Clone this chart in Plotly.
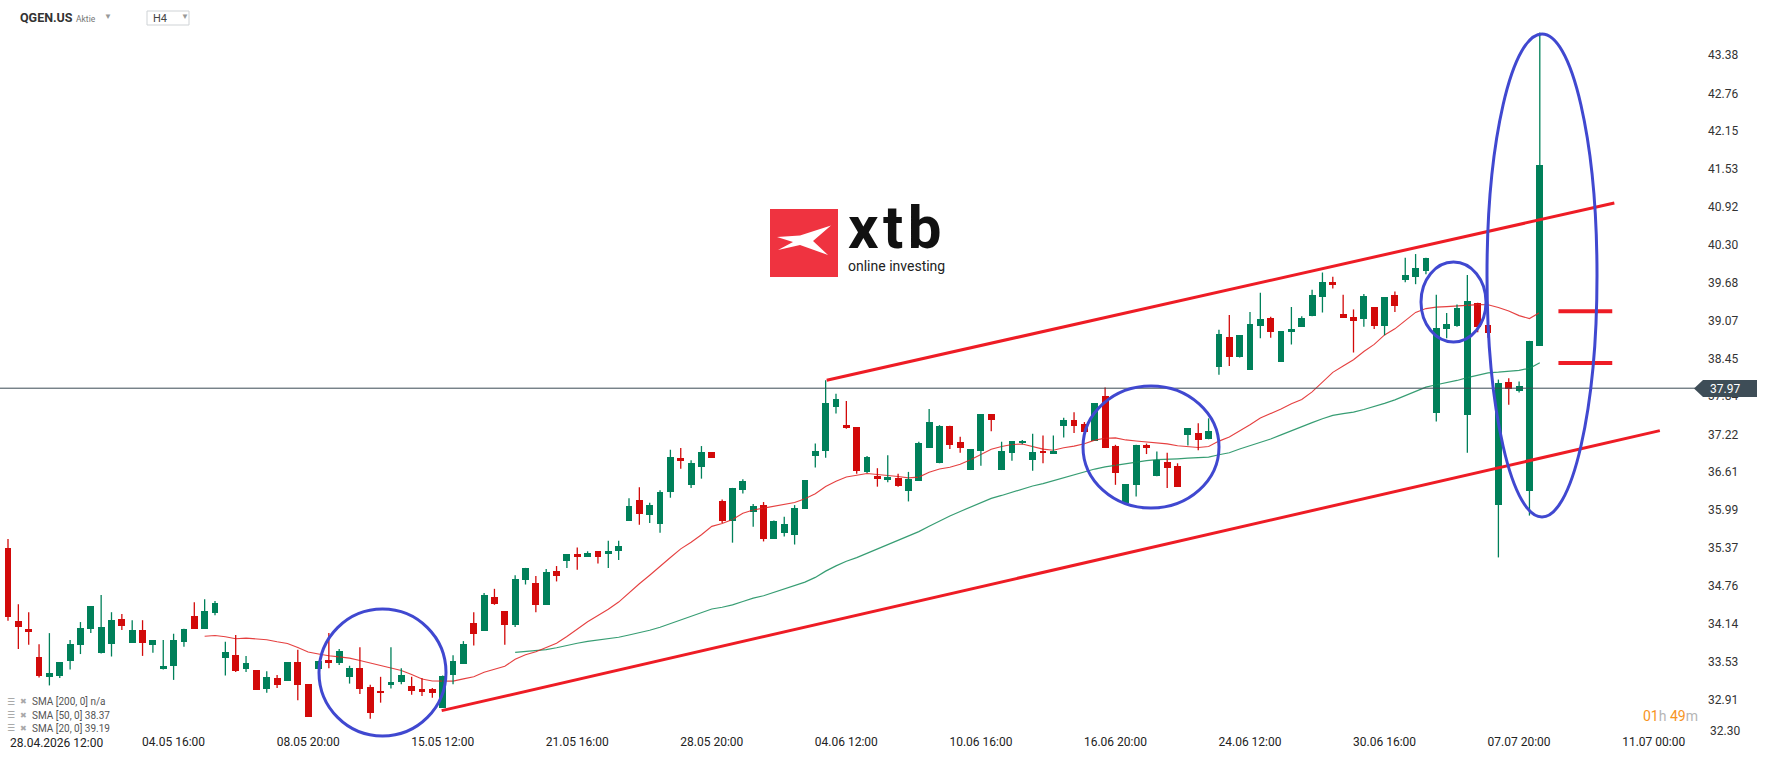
import plotly.graph_objects as go
import pandas as pd

# ---------------- data ----------------
opens = [35.37, 34.19, 34.06, 33.60, 33.27, 33.30, 33.53, 33.79, 34.06, 33.66,
         33.82, 34.22, 33.83, 34.04, 33.80, 33.40, 33.46, 33.85, 34.27, 34.06,
         34.32, 33.59, 33.63, 33.40, 33.39, 33.09, 33.26, 33.22, 33.52, 33.16,
         33.41, 33.55, 33.51, 33.27, 33.42, 33.11, 33.05, 33.14, 33.19, 33.13,
         33.09, 33.08, 32.78, 33.31, 33.49, 34.15, 34.03, 34.58, 34.35, 34.13,
         34.86, 34.80, 34.45, 35.00, 35.17, 35.27, 35.23, 35.32, 35.28, 35.33,
         35.82, 36.15, 35.91, 35.77, 36.29, 36.84, 36.39, 36.69, 36.93, 36.14,
         35.82, 36.32, 35.96, 36.07, 35.52, 35.62, 35.59, 36.01, 36.87, 36.95,
         37.67, 37.38, 37.34, 36.61, 36.54, 36.48, 36.51, 36.30, 36.47, 37.00,
         36.76, 37.36, 37.09, 36.64, 36.95, 37.55, 36.64, 36.92, 37.08, 36.80,
         36.95, 36.90, 37.35, 37.45, 37.39, 37.12, 37.85, 37.03, 36.10, 36.39,
         37.04, 36.54, 36.77, 36.71, 37.21, 37.25, 37.14, 38.32, 38.81, 38.47,
         38.27, 38.98, 39.11, 38.40, 38.89, 38.97, 39.14, 39.46, 39.69, 39.17,
         39.13, 39.09, 39.29, 38.98, 39.49, 39.73, 39.78, 39.88, 37.57, 38.94,
         38.98, 37.54, 39.36, 38.99, 36.08, 38.07, 37.92, 36.30, 38.66]
highs = [35.52, 34.46, 34.33, 33.81, 33.99, 33.52, 33.88, 34.17, 34.43, 34.61,
         34.33, 34.30, 34.20, 34.20, 33.88, 33.88, 33.98, 34.06, 34.49, 34.54,
         34.51, 33.85, 33.96, 33.62, 33.39, 33.37, 33.31, 33.52, 33.72, 33.16,
         33.54, 33.99, 33.73, 33.46, 33.76, 33.15, 33.28, 33.76, 33.42, 33.28,
         33.26, 33.10, 33.30, 33.63, 33.86, 34.33, 34.64, 34.71, 34.35, 34.93,
         35.05, 34.92, 35.03, 35.08, 35.27, 35.38, 35.32, 35.32, 35.49, 35.49,
         36.18, 36.36, 36.11, 36.31, 36.97, 37.00, 36.80, 37.03, 36.93, 36.16,
         36.35, 36.49, 36.09, 36.12, 35.82, 35.88, 36.07, 36.48, 37.07, 38.10,
         37.88, 37.76, 37.34, 36.87, 36.67, 36.88, 36.58, 36.61, 37.10, 37.63,
         37.37, 37.36, 37.18, 36.98, 37.55, 37.55, 37.10, 37.11, 37.13, 37.23,
         37.20, 37.20, 37.49, 37.58, 37.42, 37.73, 37.98, 37.05, 36.41, 37.05,
         37.07, 36.94, 36.92, 36.75, 37.32, 37.40, 37.48, 38.92, 39.16, 38.83,
         39.21, 39.52, 39.13, 38.90, 39.29, 39.14, 39.57, 39.85, 39.78, 39.49,
         39.25, 39.50, 39.29, 39.45, 39.54, 40.09, 40.15, 40.09, 39.49, 39.19,
         39.33, 39.81, 39.36, 38.99, 38.11, 38.13, 38.08, 38.74, 43.75]
lows = [34.19, 33.73, 33.80, 33.27, 33.14, 33.26, 33.40, 33.65, 33.99, 33.66,
        33.61, 34.04, 33.83, 33.62, 33.67, 33.40, 33.23, 33.77, 34.06, 34.06,
        34.28, 33.30, 33.36, 33.36, 33.07, 33.02, 33.10, 33.22, 32.90, 32.63,
        33.41, 33.42, 33.47, 33.17, 33.00, 32.60, 32.86, 33.09, 33.16, 32.99,
        32.97, 32.94, 32.78, 33.16, 33.49, 33.79, 34.03, 34.45, 33.80, 34.09,
        34.78, 34.33, 34.45, 34.83, 35.05, 35.02, 35.23, 35.12, 35.05, 35.18,
        35.82, 35.75, 35.78, 35.62, 36.19, 36.66, 36.35, 36.50, 36.84, 35.78,
        35.46, 36.26, 35.72, 35.48, 35.52, 35.56, 35.43, 36.01, 36.68, 36.84,
        37.56, 37.31, 36.58, 36.59, 36.37, 36.44, 36.37, 36.13, 36.47, 37.00,
        36.75, 36.98, 36.92, 36.64, 36.71, 37.27, 36.64, 36.79, 37.06, 36.63,
        36.75, 36.90, 37.17, 37.24, 37.26, 37.12, 37.00, 36.40, 36.10, 36.21,
        36.90, 36.54, 36.35, 36.37, 37.04, 36.96, 37.14, 38.19, 38.33, 38.47,
        38.27, 38.78, 38.79, 38.40, 38.68, 38.97, 39.14, 39.20, 39.59, 39.11,
        38.55, 38.97, 38.93, 38.83, 39.21, 39.69, 39.66, 39.82, 37.43, 38.78,
        38.97, 36.92, 38.88, 38.79, 35.22, 37.70, 37.90, 35.90, 38.66]
closes = [34.26, 34.09, 34.01, 33.30, 33.34, 33.52, 33.81, 34.07, 34.43, 34.09,
          34.20, 34.11, 34.04, 33.83, 33.88, 33.46, 33.88, 34.06, 34.06, 34.35,
          34.48, 33.68, 33.38, 33.50, 33.07, 33.28, 33.14, 33.52, 33.14, 32.63,
          33.54, 33.51, 33.70, 33.42, 33.09, 32.70, 33.01, 33.20, 33.31, 33.05,
          33.04, 33.01, 33.30, 33.54, 33.81, 33.98, 34.61, 34.47, 34.13, 34.87,
          35.05, 34.45, 34.98, 34.92, 35.27, 35.23, 35.29, 35.22, 35.32, 35.41,
          36.06, 35.93, 36.07, 36.28, 36.85, 36.78, 36.75, 36.93, 36.84, 35.81,
          36.35, 36.46, 36.06, 35.52, 35.81, 35.76, 36.02, 36.48, 36.95, 37.73,
          37.79, 37.32, 36.62, 36.85, 36.50, 36.53, 36.38, 36.49, 37.08, 37.42,
          37.36, 37.04, 37.00, 36.98, 37.55, 37.45, 36.95, 37.11, 37.12, 36.94,
          36.91, 36.95, 37.45, 37.36, 37.26, 37.73, 37.00, 36.60, 36.41, 37.05,
          37.00, 36.80, 36.68, 36.37, 37.32, 37.13, 37.27, 38.85, 38.48, 38.83,
          39.01, 39.10, 38.89, 38.90, 38.93, 39.11, 39.48, 39.69, 39.65, 39.11,
          39.07, 39.47, 38.98, 39.45, 39.30, 39.81, 39.92, 40.09, 38.95, 39.01,
          39.28, 39.38, 38.97, 38.86, 38.05, 37.95, 38.00, 38.74, 41.60]

x_tick_pos = [16, 29, 42, 55, 68, 81, 94, 107, 120, 133, 146, 159]
x_tick_text = ["04.05 16:00", "08.05 20:00", "15.05 12:00", "21.05 16:00",
               "28.05 20:00", "04.06 12:00", "10.06 16:00", "16.06 20:00",
               "24.06 12:00", "30.06 16:00", "07.07 20:00", "11.07 00:00"]
first_label = "28.04.2026 12:00"

y_tick_vals = [32.91, 33.53, 34.14, 34.76, 35.37, 35.99, 36.61, 37.22, 37.84,
               38.45, 39.07, 39.68, 40.30, 40.92, 41.53, 42.15, 42.76, 43.38]
y_bottom_label = "32.30"

last_price = 37.97
sma_periods = [20, 50]
legend_rows = ["SMA [200, 0] n/a", "SMA [50, 0] 38.37", "SMA [20, 0] 39.19"]

# channel lines drawn on the chart (index, price)
upper_channel = [(79.1, 38.10), (155.2, 40.98)]
lower_channel = [(41.9, 32.73), (159.6, 37.28)]
marker_levels = [39.22, 38.38]
marker_span = (149.8, 155.0)

# ---------------- geometry helpers ----------------
W, H = 1768, 761
ML, MR, MT, MB = 0, 73, 25, 28
PW, PH = W - ML - MR, H - MT - MB


def px(xp):
    return (xp - ML) / PW


def py(yp):
    return (H - MB - yp) / PH


GREEN = "#00805a"
RED = "#d20a0a"
LINE_RED = "#ee1c25"
BLUE = "#4048d0"

n = len(closes)
idx = list(range(n))
up = [c >= o for o, c in zip(opens, closes)]
colors = [GREEN if u else RED for u in up]
body_base = [min(o, c) for o, c in zip(opens, closes)]
body_h = [max(abs(c - o), 0.012) for o, c in zip(opens, closes)]

fig = go.Figure()

# SMA lines
s = pd.Series(closes)
sma20 = s.rolling(sma_periods[0]).mean()
sma50 = s.rolling(sma_periods[1]).mean()
fig.add_trace(go.Scatter(x=idx, y=sma50, mode="lines",
                         line=dict(color="rgba(20,140,90,0.85)", width=1.2),
                         hoverinfo="skip"))
fig.add_trace(go.Scatter(x=idx, y=sma20, mode="lines",
                         line=dict(color="rgba(225,30,30,0.85)", width=1.1),
                         hoverinfo="skip"))

# wicks
for flag, col in ((True, GREEN), (False, RED)):
    wx, wy = [], []
    for i in idx:
        if up[i] == flag:
            wx += [i, i, None]
            wy += [lows[i], highs[i], None]
    fig.add_trace(go.Scatter(x=wx, y=wy, mode="lines",
                             line=dict(color=col, width=1.3), hoverinfo="skip"))

# bodies
fig.add_trace(go.Bar(x=idx, y=body_h, base=body_base, width=0.66,
                     marker=dict(color=colors, line=dict(width=0))))

shapes = []
# last price line
shapes.append(dict(type="line", xref="paper", yref="y", x0=0, x1=1,
                   y0=last_price, y1=last_price,
                   line=dict(color="#3b4a55", width=1)))
# channel
for seg in (upper_channel, lower_channel):
    shapes.append(dict(type="line", xref="x", yref="y",
                       x0=seg[0][0], y0=seg[0][1], x1=seg[1][0], y1=seg[1][1],
                       line=dict(color=LINE_RED, width=3)))
for lv in marker_levels:
    shapes.append(dict(type="line", xref="x", yref="y",
                       x0=marker_span[0], x1=marker_span[1], y0=lv, y1=lv,
                       line=dict(color=LINE_RED, width=4)))
# blue ellipses (pixel boxes)
ellipses = [(319, 609, 446, 736), (1083, 386, 1219, 508),
            (1421, 262, 1486, 342), (1487, 34, 1597, 517)]
for (x0, y0, x1, y1) in ellipses:
    shapes.append(dict(type="circle", xref="paper", yref="paper",
                       x0=px(x0), x1=px(x1), y0=py(y1), y1=py(y0),
                       line=dict(color=BLUE, width=3)))

# price box on axis
box_pts = [(1694, 388.5), (1703, 380), (1757, 380), (1757, 397), (1703, 397)]
path = "M " + " L ".join(f"{px(a):.5f},{py(b):.5f}" for a, b in box_pts) + " Z"
shapes.append(dict(type="path", xref="paper", yref="paper", path=path,
                   fillcolor="#3e4d57", line=dict(width=0)))

# xtb logo
shapes.append(dict(type="rect", xref="paper", yref="paper",
                   x0=px(770), x1=px(838), y0=py(277), y1=py(209),
                   fillcolor="#ef3340", line=dict(width=0), layer="above"))
logo_pts = [(777, 237), (800, 235.5), (831, 225.5), (813, 241), (828, 255),
            (800, 245), (778, 250), (793, 242)]
lpath = "M " + " L ".join(f"{px(a):.5f},{py(b):.5f}" for a, b in logo_pts) + " Z"
shapes.append(dict(type="path", xref="paper", yref="paper", path=lpath,
                   fillcolor="white", line=dict(width=0), layer="above"))

# H4 box
shapes.append(dict(type="rect", xref="paper", yref="paper",
                   x0=px(147), x1=px(189), y0=py(25), y1=py(11),
                   fillcolor="white", line=dict(color="#cfd3d6", width=1)))

FONT = "Roboto"
ann = []


def text(t, xp, yp, size, color, xanchor="left", bold=False, family=FONT,
         yanchor="middle"):
    ann.append(dict(text=(f"<b>{t}</b>" if bold else t), xref="paper", yref="paper",
                    x=px(xp), y=py(yp), xanchor=xanchor, yanchor=yanchor, align="left",
                    showarrow=False, font=dict(family=family, size=size, color=color)))


text("QGEN.US", 18, 18, 12.5, "#333", bold=True)
text("Aktie", 74, 19, 8.5, "#777")
text("▼", 102, 16, 8, "#999")
text("H4", 151, 18.5, 11, "#444")
text("▼", 179, 16.5, 8, "#999")

# xtb wordmark: one block, two lines
gap = "<span style='font-size:18px'> </span>"
logo_text = (f"<b><span style='font-size:60px;color:#111'>x{gap}t{gap}b</span></b><br>"
             "<span style='font-size:14px;color:#222'>online investing</span>")
text(logo_text, 846, 233, 17.7, "#222")

# legend rows
for k, row in enumerate(legend_rows):
    yy = 701.7 + k * 13.3
    text("☰", 5, yy, 9, "#9a9a9a", family="DejaVu Sans")
    text("✖", 18, yy, 8, "#a8a8a8", family="DejaVu Sans")
    text(row, 30, yy, 10, "#555")

# first x label and bottom y label
text(first_label, 8, 743, 12, "#222")
text(y_bottom_label, 1708, 731, 12, "#333")
# price box label
text(f"{last_price:.2f}", 1708, 388.5, 12, "white")
# timer
ann.append(dict(text="<span style='color:#f7941d'>01</span><span style='color:#b5b5b5'>h</span> "
                     "<span style='color:#f7941d'>49</span><span style='color:#b5b5b5'>m</span>",
                xref="paper", yref="paper", x=px(1700), y=py(716), xanchor="right",
                yanchor="middle", showarrow=False, font=dict(family=FONT, size=14)))

fig.update_layout(
    width=W, height=H,
    margin=dict(l=ML, r=MR, t=MT, b=MB, pad=0),
    paper_bgcolor="white", plot_bgcolor="white",
    showlegend=False, bargap=0,
    font=dict(family=FONT),
    shapes=shapes, annotations=ann,
    xaxis=dict(range=[-8 / 10.35, (PW - 8) / 10.35], tickmode="array",
               tickvals=x_tick_pos, ticktext=x_tick_text, showgrid=False,
               zeroline=False, showline=False, ticks="",
               tickfont=dict(family=FONT, size=12, color="#222"), fixedrange=True),
    yaxis=dict(range=[32.367, 43.872], side="right", tickmode="array",
               tickvals=y_tick_vals, ticktext=[f"{v:.2f}" for v in y_tick_vals],
               showgrid=False, zeroline=False, showline=False, ticks="",
               ticklabelstandoff=12,
               tickfont=dict(family=FONT, size=12, color="#333"), fixedrange=True),
)

fig.write_html("out.html", config={"displayModeBar": False})
